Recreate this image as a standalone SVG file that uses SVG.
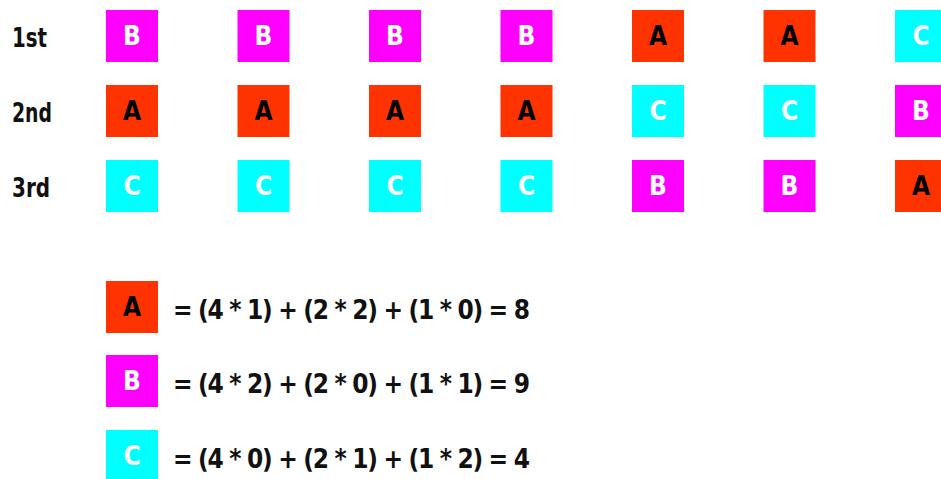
<svg xmlns="http://www.w3.org/2000/svg" width="941" height="479" viewBox="0 0 941 479">
<style>
text{font-family:"DejaVu Sans Condensed","DejaVu Sans","Liberation Sans",sans-serif;font-stretch:condensed;font-weight:bold}
.a{fill:#FF3300}.b{fill:#FF00FF}.c{fill:#00FFFF}
.lt{font-size:26px;text-anchor:middle}
.ta{fill:#000}.tw{fill:#fff}
.lbl{font-size:26px;fill:#111}
.eq{font-size:26px;fill:#111}
</style>
<rect width="941" height="479" fill="#fff"/>
<g id="labels">
<text class="lbl" x="12" y="47" textLength="35" lengthAdjust="spacingAndGlyphs">1st</text>
<text class="lbl" x="12" y="122" textLength="40" lengthAdjust="spacingAndGlyphs">2nd</text>
<text class="lbl" x="12" y="197" textLength="38" lengthAdjust="spacingAndGlyphs">3rd</text>
</g>
<g id="r1c1"><rect class="b" x="106" y="10" width="52" height="52"/><text class="lt tw" x="132" y="45">B</text></g>
<g id="r1c2"><rect class="b" x="237.5" y="10" width="52" height="52"/><text class="lt tw" x="263.5" y="45">B</text></g>
<g id="r1c3"><rect class="b" x="369" y="10" width="52" height="52"/><text class="lt tw" x="395" y="45">B</text></g>
<g id="r1c4"><rect class="b" x="500.5" y="10" width="52" height="52"/><text class="lt tw" x="526.5" y="45">B</text></g>
<g id="r1c5"><rect class="a" x="632" y="10" width="52" height="52"/><text class="lt ta" x="658" y="45">A</text></g>
<g id="r1c6"><rect class="a" x="763.5" y="10" width="52" height="52"/><text class="lt ta" x="789.5" y="45">A</text></g>
<g id="r1c7"><rect class="c" x="895" y="10" width="52" height="52"/><text class="lt tw" x="921" y="45">C</text></g>

<g id="r2c1"><rect class="a" x="106" y="85" width="52" height="52"/><text class="lt ta" x="132" y="120">A</text></g>
<g id="r2c2"><rect class="a" x="237.5" y="85" width="52" height="52"/><text class="lt ta" x="263.5" y="120">A</text></g>
<g id="r2c3"><rect class="a" x="369" y="85" width="52" height="52"/><text class="lt ta" x="395" y="120">A</text></g>
<g id="r2c4"><rect class="a" x="500.5" y="85" width="52" height="52"/><text class="lt ta" x="526.5" y="120">A</text></g>
<g id="r2c5"><rect class="c" x="632" y="85" width="52" height="52"/><text class="lt tw" x="658" y="120">C</text></g>
<g id="r2c6"><rect class="c" x="763.5" y="85" width="52" height="52"/><text class="lt tw" x="789.5" y="120">C</text></g>
<g id="r2c7"><rect class="b" x="895" y="85" width="52" height="52"/><text class="lt tw" x="921" y="120">B</text></g>

<g id="r3c1"><rect class="c" x="106" y="160" width="52" height="52"/><text class="lt tw" x="132" y="195">C</text></g>
<g id="r3c2"><rect class="c" x="237.5" y="160" width="52" height="52"/><text class="lt tw" x="263.5" y="195">C</text></g>
<g id="r3c3"><rect class="c" x="369" y="160" width="52" height="52"/><text class="lt tw" x="395" y="195">C</text></g>
<g id="r3c4"><rect class="c" x="500.5" y="160" width="52" height="52"/><text class="lt tw" x="526.5" y="195">C</text></g>
<g id="r3c5"><rect class="b" x="632" y="160" width="52" height="52"/><text class="lt tw" x="658" y="195">B</text></g>
<g id="r3c6"><rect class="b" x="763.5" y="160" width="52" height="52"/><text class="lt tw" x="789.5" y="195">B</text></g>
<g id="r3c7"><rect class="a" x="895" y="160" width="52" height="52"/><text class="lt ta" x="921" y="195">A</text></g>

<g id="eqA"><rect class="a" x="106" y="281" width="52" height="52"/><text class="lt ta" x="132" y="316">A</text>
<text class="eq" x="173" y="319" textLength="357" lengthAdjust="spacing">= (4 * 1) + (2 * 2) + (1 * 0) = 8</text></g>
<g id="eqB"><rect class="b" x="106" y="355" width="52" height="52"/><text class="lt tw" x="132" y="390">B</text>
<text class="eq" x="173" y="393" textLength="357" lengthAdjust="spacing">= (4 * 2) + (2 * 0) + (1 * 1) = 9</text></g>
<g id="eqC"><rect class="c" x="106" y="430" width="52" height="52"/><text class="lt tw" x="132" y="465">C</text>
<text class="eq" x="173" y="468" textLength="357" lengthAdjust="spacing">= (4 * 0) + (2 * 1) + (1 * 2) = 4</text></g>
</svg>
